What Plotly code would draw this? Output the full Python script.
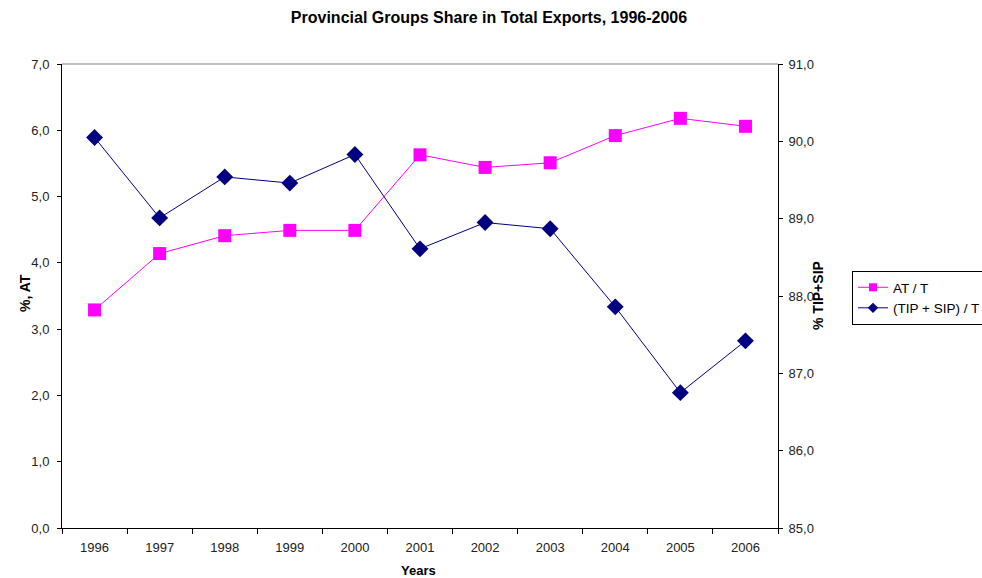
import plotly.graph_objects as go

# Export shares by provincial group, 1996-2006
years = ["1996", "1997", "1998", "1999", "2000", "2001", "2002", "2003", "2004", "2005", "2006"]
at_share = [3.29, 4.14, 4.41, 4.49, 4.49, 5.63, 5.44, 5.51, 5.92, 6.18, 6.06]
tip_sip_share = [90.05, 89.01, 89.54, 89.46, 89.83, 88.61, 88.95, 88.87, 87.86, 86.75, 87.42]

FONT = "Arial, Liberation Sans, sans-serif"
PINK = "#FF00FF"
NAVY = "#000080"
TICK_FONT = dict(family=FONT, size=13, color="#222222")

fig = go.Figure()

fig.add_trace(go.Scatter(
    x=years, y=at_share, name="AT / T", mode="lines+markers",
    line=dict(color=PINK, width=1),
    marker=dict(symbol="square", size=13, color=PINK),
    yaxis="y", showlegend=False,
))
fig.add_trace(go.Scatter(
    x=years, y=tip_sip_share, name="(TIP + SIP) / T", mode="lines+markers",
    line=dict(color=NAVY, width=1),
    marker=dict(symbol="diamond", size=13, color=NAVY),
    yaxis="y2", showlegend=False,
))

# Legend entries with compact key markers
fig.add_trace(go.Scatter(
    x=[None], y=[None], name="AT / T", mode="lines+markers",
    line=dict(color=PINK, width=1),
    marker=dict(symbol="square", size=8, color=PINK),
))
fig.add_trace(go.Scatter(
    x=[None], y=[None], name="(TIP + SIP) / T", mode="lines+markers",
    line=dict(color=NAVY, width=1),
    marker=dict(symbol="diamond", size=8, color=NAVY),
))

fig.update_layout(
    width=982, height=578,
    margin=dict(l=62, r=204, t=64, b=50, autoexpand=False),
    paper_bgcolor="white", plot_bgcolor="white",
    separators=",.",
    font=dict(family=FONT, size=12, color="#222222"),
    showlegend=True,
    title=dict(
        text="<b>Provincial Groups Share in Total Exports, 1996-2006</b>",
        x=489 / 982, xanchor="center", y=1 - 17 / 578, yanchor="middle",
        font=dict(family=FONT, size=16, color="black"),
    ),
    xaxis=dict(
        type="category", range=[-0.5, 10.5],
        showline=True, linecolor="black", linewidth=1,
        ticks="outside", tickson="boundaries", ticklen=5, tickcolor="black",
        ticklabelstandoff=7,
        showgrid=False, zeroline=False,
        tickfont=TICK_FONT,
    ),
    yaxis=dict(
        range=[0, 7], dtick=1, tickformat=".1f",
        showline=True, linecolor="black", linewidth=1,
        ticks="outside", ticklen=4, tickcolor="black",
        ticklabelstandoff=5,
        showgrid=False, zeroline=False,
        tickfont=TICK_FONT,
    ),
    yaxis2=dict(
        range=[85, 91], dtick=1, tickformat=".1f",
        overlaying="y", side="right",
        showline=True, linecolor="black", linewidth=1,
        ticks="outside", ticklen=4, tickcolor="black",
        ticklabelstandoff=3,
        showgrid=False, zeroline=False,
        tickfont=TICK_FONT,
    ),
    legend=dict(
        x=(852 - 62) / 716, xanchor="left",
        y=(528 - 271) / 464, yanchor="top",
        bordercolor="black", borderwidth=1, bgcolor="white",
        font=dict(family=FONT, size=13.5, color="black"),
        tracegroupgap=0, itemwidth=30,
    ),
)

# Gray border along the top of the plot area
fig.add_shape(type="line", xref="paper", yref="paper", x0=0, x1=1, y0=1, y1=1,
              line=dict(color="#808080", width=1))

# Axis titles
fig.add_annotation(text="<b>%, AT</b>", xref="paper", yref="paper",
                   x=-47 / 716, y=(528 - 293) / 464, textangle=-90, showarrow=False,
                   font=dict(family=FONT, size=14, color="black"))
fig.add_annotation(text="<b>% TIP+SIP</b>", xref="paper", yref="paper",
                   x=1 + 50 / 716, y=0.5, textangle=-90, showarrow=False,
                   font=dict(family=FONT, size=14, color="black"))
fig.add_annotation(text="<b>Years</b>", xref="paper", yref="paper",
                   x=0.5 - 2 / 716, y=-42 / 464, yanchor="middle", showarrow=False,
                   font=dict(family=FONT, size=13, color="black"))

fig.write_html("out.html")
